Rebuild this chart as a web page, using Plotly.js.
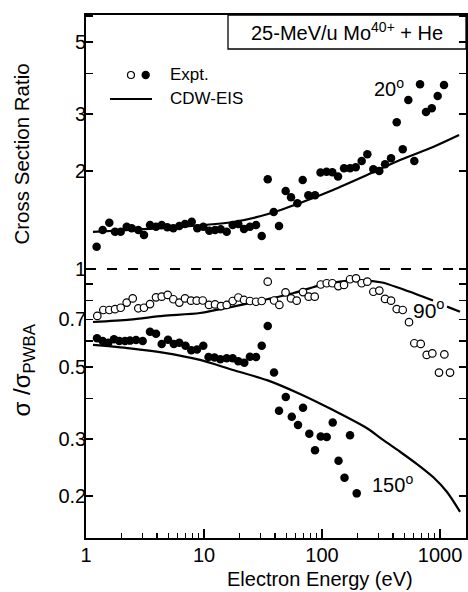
<!DOCTYPE html>
<html>
<head>
<meta charset="utf-8">
<script src="https://cdn.plot.ly/plotly-3.0.1.min.js"></script>
<style>html,body{margin:0;padding:0;background:#fff;}#chart{width:468px;height:592px;}</style>
</head>
<body>
<div id="chart"></div>
<script>
// 20 deg, experiment (filled)
const energy20 = [1.23,1.385,1.576,1.762,1.968,2.213,2.44,2.775,3.10,3.486,3.92,4.38,4.887,5.495,6.176,6.90,7.866,8.77,9.86,11.09,12.4,13.85,15.57,17.5,19.53,21.83,24.5,27.6,30.83,34.67,38.96,43.2,49.2,54.6,61.8,68.6,76.6,87.2,97.1,109.2,122.3,136.6,153.6,172.7,193.1,216.9,242.1,272.2,305.9,342,384.4,429.6,483,538.6,605.5,677,760.6,851,955,1081];
const ratio20 = [1.171,1.318,1.388,1.302,1.302,1.349,1.334,1.318,1.272,1.366,1.349,1.366,1.344,1.334,1.356,1.375,1.398,1.334,1.349,1.311,1.318,1.325,1.302,1.366,1.375,1.328,1.349,1.366,1.263,1.888,1.497,1.356,1.738,1.662,1.593,1.878,1.686,1.686,1.98,1.993,1.983,1.926,2.04,2.04,2.055,2.149,2.254,2.027,2.002,2.1,2.19,2.828,2.335,3.311,2.149,3.70,3.041,3.122,3.406,3.68];

// 90 deg, experiment (open)
const energy90 = [1.247,1.402,1.576,1.762,1.968,2.213,2.488,2.775,3.10,3.486,3.92,4.38,4.925,5.495,6.176,6.90,7.758,8.67,9.75,11.02,12.4,13.93,15.57,17.5,19.53,21.83,24.5,27.6,30.83,34.67,39.2,43.5,49.06,54.6,61.0,69.0,77.1,86.7,97.5,109.6,122.3,137.4,153.6,172.7,194.1,216.9,242.1,272.2,305.9,342,384.4,429.6,483,546,605.5,686,771,860,980,1088,1215];
const ratio90 = [0.717,0.748,0.748,0.752,0.760,0.788,0.812,0.757,0.760,0.780,0.818,0.822,0.832,0.807,0.788,0.812,0.799,0.799,0.80,0.775,0.778,0.769,0.775,0.797,0.817,0.803,0.797,0.793,0.797,0.914,0.80,0.775,0.847,0.812,0.799,0.849,0.822,0.822,0.896,0.904,0.904,0.886,0.893,0.930,0.936,0.904,0.914,0.851,0.858,0.809,0.799,0.753,0.748,0.686,0.591,0.588,0.544,0.550,0.480,0.546,0.480];

// 150 deg, experiment (filled)
const energy150 = [1.240,1.385,1.545,1.727,1.915,2.141,2.36,2.653,3.024,3.486,3.92,4.38,4.955,5.55,6.176,6.97,7.80,8.72,9.86,10.92,12.27,13.75,15.57,17.5,19.53,21.95,24.5,27.6,30.83,34.67,39.2,43.2,49.3,55.4,62.6,69.0,78.0,87.2,97.5,109.6,123.2,138,155.1,172.7,196.8];
const ratio150 = [0.612,0.600,0.593,0.608,0.600,0.600,0.602,0.605,0.600,0.641,0.632,0.588,0.606,0.588,0.593,0.581,0.562,0.565,0.581,0.536,0.534,0.528,0.531,0.531,0.520,0.515,0.537,0.536,0.581,0.668,0.480,0.366,0.404,0.351,0.331,0.374,0.311,0.277,0.305,0.304,0.337,0.257,0.228,0.308,0.204];

// CDW-EIS theory curves
const cdwEnergy20 = [1.146,2.36,6.26,17.6,34.9,65.1,124,240.5,458,872.5,1449];
const cdwRatio20 = [1.30,1.318,1.347,1.395,1.476,1.596,1.75,1.946,2.164,2.374,2.584];
const cdwEnergy90 = [1.146,2.36,4.49,9.25,17.6,34.2,56.8,90.7,142,218.3,322.5,458,638,872.5,null,1146,1477];
const cdwRatio90 = [0.687,0.699,0.717,0.732,0.766,0.807,0.842,0.886,0.915,0.923,0.909,0.872,0.835,0.80,null,0.766,0.739];
const cdwEnergy150 = [1.146,2.36,4.49,9.25,17.6,34.2,65.1,124,240.5,329,458,638,872.5,1146,1477];
const cdwRatio150 = [0.584,0.570,0.553,0.525,0.489,0.455,0.4125,0.368,0.3236,0.298,0.274,0.251,0.229,0.206,0.179];

const xTickVals = [1,10,100,1000];
const xTickText = ['1','10','100','1000'];
const yTickVals = [5,3,2,1,0.7,0.5,0.3,0.2];
const yTickText = ['5','3','2','1','0.7','0.5','0.3','0.2'];

const FONT = 'Liberation Sans, Arial, Helvetica, sans-serif';
const filled = {size: 8.5, color: '#000'};
const openM = {size: 7.5, color: '#fff', line: {color: '#000', width: 1.2}};
const thLine = {color: '#000', width: 2.2, shape: 'spline', smoothing: 0.8};

const traces = [
  {x: cdwEnergy20, y: cdwRatio20, mode: 'lines', line: thLine, connectgaps: false},
  {x: cdwEnergy90, y: cdwRatio90, mode: 'lines', line: thLine, connectgaps: false},
  {x: cdwEnergy150, y: cdwRatio150, mode: 'lines', line: thLine, connectgaps: false},
  {x: energy20, y: ratio20, mode: 'markers', marker: filled},
  {x: energy90, y: ratio90, mode: 'markers', marker: openM},
  {x: energy150, y: ratio150, mode: 'markers', marker: filled}
];

const layout = {
  width: 468, height: 592,
  margin: {l: 86, r: 2, t: 15, b: 54},
  paper_bgcolor: '#fff', plot_bgcolor: '#fff',
  showlegend: false,
  font: {family: FONT, color: '#000', size: 20},
  xaxis: {
    type: 'log', range: [0, 3.22],
    tickvals: xTickVals, ticktext: xTickText,
    ticks: 'inside', ticklen: 9, tickwidth: 1.5, tickcolor: '#000',
    minor: {ticks: 'inside', ticklen: 5, tickwidth: 1.2, tickcolor: '#000', dtick: 'D1', showgrid: false},
    showline: true, linecolor: '#000', linewidth: 1.8, mirror: true,
    showgrid: false, zeroline: false,
    ticklabelstandoff: -2,
    tickfont: {size: 20, family: FONT}
  },
  yaxis: {
    type: 'log', range: [-0.8277, 0.7815],
    tickvals: yTickVals, ticktext: yTickText,
    ticks: 'inside', ticklen: 7, tickwidth: 1.5, tickcolor: '#000',
    minor: {ticks: 'inside', ticklen: 7, tickwidth: 1.3, tickcolor: '#000', dtick: 'D1', showgrid: false},
    showline: true, linecolor: '#000', linewidth: 1.8, mirror: 'ticks',
    showgrid: false, zeroline: false,
    ticklabelstandoff: -6,
    tickfont: {size: 20, family: FONT}
  },
  shapes: [
    {type: 'line', xref: 'paper', x0: 0, x1: 1, yref: 'y', y0: 1, y1: 1,
     line: {color: '#000', width: 2, dash: '10px,11px'}},
    {type: 'rect', xref: 'paper', yref: 'paper', x0: 0.3737, x1: 1, y0: 0.935, y1: 1,
     line: {color: '#000', width: 1.3}, fillcolor: 'rgba(0,0,0,0)'},
    // legend symbols
    {type: 'circle', xref: 'paper', yref: 'paper', xsizemode: 'pixel', ysizemode: 'pixel',
     xanchor: 0.1184, yanchor: 0.8853, x0: -3.5, x1: 3.5, y0: -3.5, y1: 3.5,
     line: {color: '#000', width: 1.2}, fillcolor: '#fff'},
    {type: 'circle', xref: 'paper', yref: 'paper', xsizemode: 'pixel', ysizemode: 'pixel',
     xanchor: 0.1571, yanchor: 0.8853, x0: -4.2, x1: 4.2, y0: -4.2, y1: 4.2,
     line: {color: '#000', width: 0}, fillcolor: '#000'},
    {type: 'line', xref: 'paper', yref: 'paper', x0: 0.0632, x1: 0.1737, y0: 0.8394, y1: 0.8394,
     line: {color: '#000', width: 2.2}}
  ],
  annotations: [
    {xref: 'paper', yref: 'paper', x: 0.6868, y: 0.9675, xanchor: 'center', yanchor: 'middle',
     text: '25-MeV/u Mo<sup>40+</sup> + He', showarrow: false, font: {size: 20, family: FONT}},
    {xref: 'paper', yref: 'paper', x: 0.2158, y: 0.8853, xanchor: 'left', yanchor: 'middle',
     text: 'Expt.', showarrow: false, font: {size: 17, family: FONT}},
    {xref: 'paper', yref: 'paper', x: 0.2158, y: 0.8394, xanchor: 'left', yanchor: 'middle',
     text: 'CDW-EIS', showarrow: false, font: {size: 17, family: FONT}},
    {xref: 'paper', yref: 'paper', x: 0.797, y: 0.862, xanchor: 'center', yanchor: 'middle',
     text: '20<sup>o</sup>', showarrow: false, font: {size: 20, family: FONT}},
    {xref: 'paper', yref: 'paper', x: 0.855, y: 0.438, xanchor: 'left', yanchor: 'middle',
     text: '90<sup>o</sup>', showarrow: false, font: {size: 21, family: FONT}},
    {xref: 'paper', yref: 'paper', x: 0.8066, y: 0.105, xanchor: 'center', yanchor: 'middle',
     text: '150<sup>o</sup>', showarrow: false, font: {size: 20, family: FONT}},
    {xref: 'paper', yref: 'paper', x: 0.616, y: -0.079, xanchor: 'center', yanchor: 'middle',
     text: 'Electron Energy (eV)', showarrow: false, font: {size: 20, family: FONT}},
    {xref: 'paper', yref: 'paper', x: -0.17, y: 0.734, xanchor: 'center', yanchor: 'middle',
     text: 'Cross Section Ratio', textangle: -90, showarrow: false, font: {size: 20.5, family: FONT}},
    {xref: 'paper', yref: 'paper', x: -0.165, y: 0.321, xanchor: 'center', yanchor: 'middle',
     text: 'σ /σ<sub>PWBA</sub>', textangle: -90, showarrow: false, font: {size: 24, family: FONT}}
  ]
};

Plotly.newPlot('chart', traces, layout, {displayModeBar: false, staticPlot: true});
</script>
</body>
</html>
